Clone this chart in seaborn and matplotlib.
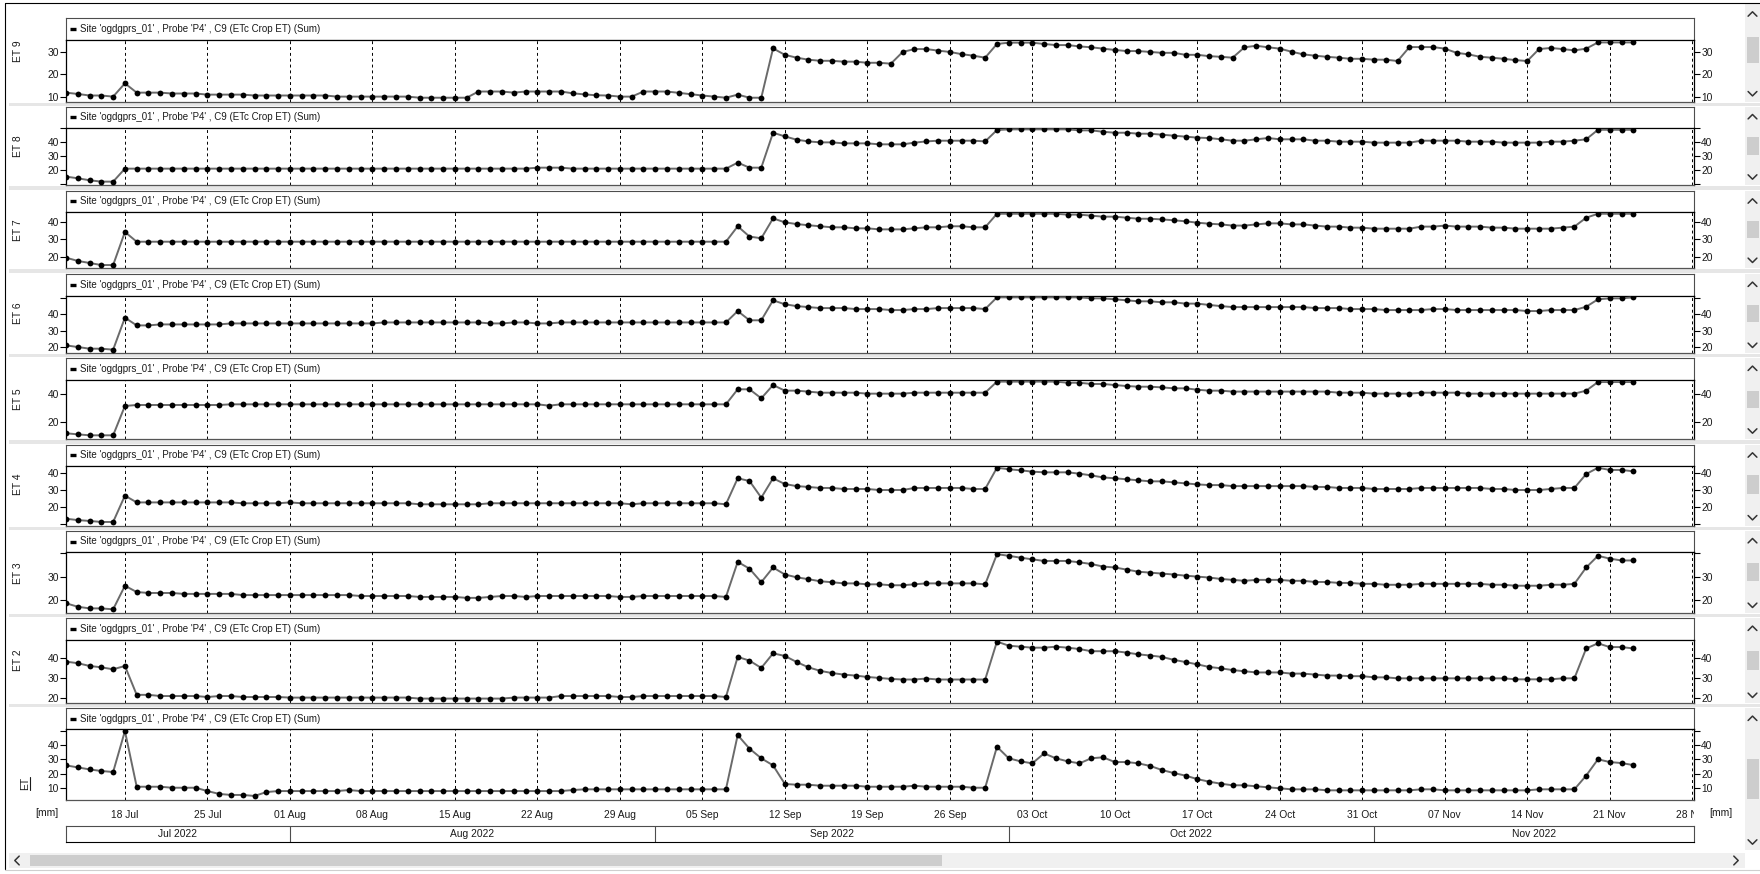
import matplotlib
matplotlib.use("Agg")
import matplotlib.pyplot as plt
import matplotlib.dates as mdates
from matplotlib.transforms import Bbox, TransformedBbox
import numpy as np
import pandas as pd
import seaborn as sns

# ---------------------------------------------------------------- data
first_day = "2022-07-13"
last_day = "2022-11-23"
header_text = "Site 'ogdgprs_01' , Probe 'P4' , C9 (ETc Crop ET) (Sum)"
unit_label = "[mm]"
panel_labels = ["ET 9", "ET 8", "ET 7", "ET 6", "ET 5", "ET 4", "ET 3", "ET 2", "ET"]
month_labels = ["Jul 2022", "Aug 2022", "Sep 2022", "Oct 2022", "Nov 2022"]
month_starts = ["2022-07-01", "2022-08-01", "2022-09-01", "2022-10-01", "2022-11-01", "2022-12-01"]

et9 = [11.8, 11.2, 10.5, 10.5, 10.0, 16.0, 11.8, 11.8, 11.8, 11.4,
       11.4, 11.4, 10.9, 10.9, 10.9, 10.9, 10.5, 10.5, 10.5, 10.5,
       10.5, 10.5, 10.5, 10.0, 10.0, 10.0, 10.0, 10.0, 10.0, 10.0,
       9.5, 9.5, 9.5, 9.5, 9.5, 12.3, 12.3, 12.3, 11.8, 12.3,
       12.3, 12.3, 12.3, 11.5, 11.0, 10.6, 10.5, 10.0, 10.0, 12.3,
       12.3, 12.3, 11.7, 11.1, 10.5, 10.0, 9.5, 10.9, 9.5, 9.5,
       31.8, 28.9, 27.6, 26.7, 26.2, 26.2, 25.8, 25.8, 25.3, 25.3,
       24.9, 30.2, 31.5, 31.5, 30.8, 30.2, 29.2, 28.5, 27.6, 33.8,
       34.4, 34.4, 34.4, 33.8, 33.3, 33.3, 32.7, 32.3, 31.7, 31.1,
       30.6, 30.6, 30.2, 29.8, 29.8, 28.9, 28.9, 28.3, 28.0, 27.6,
       32.3, 33.0, 32.3, 31.7, 30.3, 29.1, 28.5, 28.0, 27.6, 27.1,
       27.1, 26.7, 26.7, 26.1, 32.4, 32.4, 32.4, 31.7, 29.8, 29.1,
       28.0, 27.6, 27.1, 26.5, 26.1, 31.5, 32.0, 31.5, 30.9, 31.7,
       34.5, 34.5, 34.5, 34.5]

et8 = [15.0, 13.8, 12.4, 11.4, 11.4, 20.7, 20.7, 20.7, 20.7, 20.7,
       20.7, 20.7, 20.7, 20.7, 20.7, 20.7, 20.7, 20.7, 20.7, 20.7,
       20.7, 20.7, 20.7, 20.7, 20.7, 20.7, 20.7, 20.7, 20.7, 20.7,
       20.7, 20.7, 20.7, 20.7, 20.7, 20.7, 20.7, 20.7, 20.7, 20.7,
       21.4, 21.4, 21.4, 20.7, 20.7, 20.7, 20.7, 20.7, 20.7, 20.7,
       20.7, 20.7, 20.7, 20.7, 20.7, 20.7, 20.7, 25.0, 21.4, 21.4,
       46.4, 43.8, 41.4, 40.2, 39.5, 39.5, 38.8, 38.8, 38.8, 38.1,
       38.1, 38.1, 39.3, 40.2, 40.7, 40.7, 40.7, 40.7, 40.2, 48.3,
       48.8, 48.8, 48.8, 48.8, 48.8, 48.8, 48.1, 48.1, 47.1, 46.4,
       46.4, 45.7, 45.7, 45.0, 44.3, 43.6, 42.9, 42.6, 41.7, 40.7,
       40.7, 41.7, 42.6, 41.7, 41.7, 41.7, 40.7, 40.7, 40.0, 40.0,
       40.0, 39.3, 39.3, 39.3, 39.3, 40.7, 40.7, 40.7, 40.7, 40.0,
       40.0, 40.0, 39.3, 39.3, 39.3, 39.3, 40.0, 40.0, 40.7, 41.7,
       48.5, 48.5, 48.5, 48.5]

et7 = [19.4, 17.5, 16.3, 15.1, 15.1, 34.4, 28.7, 28.7, 28.7, 28.7,
       28.7, 28.7, 28.7, 28.7, 28.7, 28.7, 28.7, 28.7, 28.7, 28.7,
       28.7, 28.7, 28.7, 28.7, 28.7, 28.7, 28.7, 28.7, 28.7, 28.7,
       28.7, 28.7, 28.7, 28.7, 28.7, 28.7, 28.7, 28.7, 28.7, 28.7,
       28.7, 28.7, 28.7, 28.7, 28.7, 28.7, 28.7, 28.7, 28.7, 28.7,
       28.7, 28.7, 28.7, 28.7, 28.7, 28.7, 28.7, 37.7, 31.7, 30.7,
       42.3, 40.0, 39.0, 38.3, 37.7, 37.1, 37.1, 36.5, 36.5, 35.9,
       35.9, 35.9, 36.5, 37.1, 37.1, 37.7, 37.7, 37.1, 37.1, 45.0,
       45.0, 45.0, 45.0, 45.0, 45.0, 44.5, 44.5, 43.9, 43.3, 43.3,
       42.7, 42.1, 42.1, 41.7, 41.2, 40.6, 39.8, 39.2, 38.8, 38.1,
       38.1, 38.8, 39.4, 39.4, 38.8, 38.8, 38.1, 37.5, 37.5, 36.9,
       36.9, 36.3, 36.3, 36.3, 36.3, 37.5, 37.5, 38.1, 37.5, 37.5,
       37.5, 36.9, 36.9, 36.3, 36.3, 36.3, 36.3, 36.9, 37.5, 42.7,
       45.0, 45.0, 45.0, 45.0]

et6 = [21.0, 20.0, 19.0, 19.0, 18.4, 37.8, 33.1, 33.1, 33.7, 33.7,
       33.7, 33.7, 33.7, 33.7, 34.3, 34.3, 34.3, 34.3, 34.3, 34.3,
       34.3, 34.3, 34.3, 34.3, 34.3, 34.3, 34.3, 34.9, 34.9, 34.9,
       34.9, 34.9, 34.9, 34.9, 34.9, 34.9, 34.3, 34.3, 34.9, 34.9,
       34.3, 34.3, 34.9, 34.9, 34.9, 34.9, 34.9, 34.9, 34.9, 34.9,
       34.9, 34.9, 34.9, 34.9, 34.9, 34.9, 34.9, 41.8, 36.2, 36.2,
       48.3, 45.9, 44.8, 44.2, 43.6, 43.6, 43.6, 43.0, 43.0, 43.0,
       42.4, 42.4, 43.0, 43.0, 43.6, 43.6, 43.6, 43.6, 43.0, 50.1,
       50.1, 50.1, 50.1, 50.1, 50.1, 50.1, 50.1, 49.5, 49.5, 48.9,
       48.3, 47.7, 47.7, 47.1, 47.1, 46.3, 46.3, 45.5, 44.8, 44.2,
       44.2, 44.2, 44.2, 44.2, 44.2, 44.2, 43.6, 43.6, 43.6, 43.0,
       43.0, 43.0, 42.4, 42.4, 42.4, 42.4, 43.0, 43.0, 42.4, 42.4,
       42.4, 42.4, 42.4, 42.4, 41.8, 41.8, 42.4, 42.4, 42.4, 44.4,
       48.9, 49.5, 49.5, 50.1]

et5 = [11.5, 10.7, 10.0, 10.0, 10.0, 31.5, 32.2, 32.2, 32.2, 32.2,
       32.2, 32.2, 32.2, 32.2, 32.7, 32.7, 32.7, 32.7, 32.7, 32.7,
       32.7, 32.7, 32.7, 32.7, 32.7, 32.7, 32.7, 32.7, 32.7, 32.7,
       32.7, 32.7, 32.7, 32.7, 32.7, 32.7, 32.7, 32.7, 32.7, 32.7,
       32.7, 31.7, 32.7, 32.7, 32.7, 32.7, 32.7, 32.7, 32.7, 32.7,
       32.7, 32.7, 32.7, 32.7, 32.7, 32.7, 32.7, 43.7, 43.7, 37.1,
       46.8, 42.7, 42.7, 42.0, 41.2, 41.2, 41.2, 41.2, 40.5, 40.5,
       40.5, 40.5, 41.2, 41.2, 41.2, 41.2, 41.2, 41.2, 41.2, 49.3,
       49.3, 49.3, 49.3, 49.3, 49.3, 48.5, 48.5, 47.6, 47.6, 46.8,
       46.1, 45.6, 45.6, 45.1, 44.4, 44.4, 43.4, 42.7, 42.7, 42.0,
       42.0, 42.0, 42.0, 42.0, 42.0, 42.0, 42.0, 42.0, 41.2, 41.2,
       41.2, 40.5, 40.5, 40.5, 40.5, 41.2, 41.2, 41.2, 41.2, 40.5,
       40.5, 40.5, 40.5, 40.5, 40.5, 40.5, 40.5, 40.5, 40.5, 42.7,
       49.0, 49.0, 49.0, 49.0]

et4 = [13.3, 12.5, 12.0, 11.4, 11.4, 26.9, 22.9, 22.9, 22.9, 22.9,
       22.9, 22.9, 22.9, 22.9, 22.9, 22.4, 22.4, 22.4, 22.4, 22.9,
       22.4, 22.4, 22.4, 22.4, 22.4, 22.4, 22.4, 22.4, 22.4, 22.4,
       21.8, 21.8, 21.8, 21.8, 21.8, 21.8, 22.4, 22.4, 22.4, 22.4,
       22.4, 22.4, 22.4, 22.4, 22.4, 22.4, 22.4, 22.4, 21.8, 22.4,
       22.4, 22.4, 22.4, 22.4, 22.4, 22.4, 21.8, 37.1, 35.5, 25.7,
       37.1, 33.7, 32.5, 32.0, 31.4, 31.4, 30.8, 30.8, 30.8, 30.2,
       30.2, 30.2, 31.4, 31.4, 31.4, 31.4, 31.4, 30.8, 30.8, 43.3,
       42.4, 41.8, 41.0, 40.6, 40.6, 40.6, 39.8, 38.8, 37.6, 37.1,
       36.5, 35.9, 35.3, 35.3, 34.7, 34.1, 33.5, 33.1, 33.1, 32.5,
       32.5, 32.5, 32.5, 32.5, 32.5, 32.5, 32.0, 32.0, 31.4, 31.4,
       31.4, 30.8, 30.8, 30.8, 30.8, 31.4, 31.4, 31.4, 31.4, 31.4,
       31.4, 30.8, 30.8, 30.2, 30.2, 30.2, 30.8, 31.4, 31.4, 39.6,
       43.3, 42.0, 42.0, 41.2]

et3 = [18.6, 17.1, 16.4, 16.4, 16.0, 26.1, 23.4, 23.0, 23.0, 23.0,
       22.6, 22.6, 22.6, 22.6, 22.6, 22.1, 22.1, 22.1, 22.1, 22.1,
       22.1, 22.1, 22.1, 22.1, 22.1, 21.7, 21.7, 21.7, 21.7, 21.7,
       21.3, 21.3, 21.3, 21.3, 20.9, 20.9, 21.3, 21.7, 21.7, 21.3,
       21.7, 21.7, 21.7, 21.7, 21.7, 21.7, 21.7, 21.3, 21.3, 21.7,
       21.7, 21.7, 21.7, 21.7, 21.7, 21.7, 21.3, 36.3, 33.4, 27.6,
       33.9, 30.9, 29.7, 28.9, 28.0, 27.6, 27.1, 27.1, 26.7, 26.7,
       26.3, 26.3, 26.7, 27.1, 27.1, 27.1, 27.1, 27.1, 26.7, 39.6,
       38.9, 38.1, 37.4, 36.7, 36.7, 36.7, 36.1, 35.4, 34.3, 33.9,
       33.0, 32.1, 31.7, 31.3, 30.9, 30.4, 30.0, 29.6, 29.0, 28.6,
       28.2, 28.6, 28.6, 28.6, 28.2, 28.2, 27.7, 27.7, 27.3, 27.3,
       26.9, 26.9, 26.5, 26.5, 26.5, 26.9, 26.9, 26.9, 26.9, 26.9,
       26.9, 26.5, 26.5, 26.1, 26.1, 26.1, 26.5, 26.5, 26.9, 33.9,
       38.9, 37.7, 36.9, 36.9]

et2 = [38.3, 37.5, 36.1, 35.4, 34.4, 36.1, 21.4, 21.4, 20.8, 20.8,
       20.8, 20.8, 20.3, 20.8, 20.8, 20.3, 20.3, 20.3, 20.3, 20.0,
       20.0, 20.0, 20.0, 20.0, 20.0, 20.0, 20.0, 20.0, 20.0, 20.0,
       19.5, 19.5, 19.5, 19.5, 19.5, 19.5, 19.5, 19.5, 20.0, 20.0,
       20.0, 20.0, 20.8, 20.8, 20.8, 20.8, 20.8, 20.3, 20.3, 20.8,
       20.8, 20.8, 20.8, 20.8, 20.8, 20.8, 20.3, 40.7, 38.8, 35.1,
       42.5, 41.2, 38.1, 35.4, 33.6, 32.5, 31.7, 31.2, 30.5, 30.0,
       29.5, 29.2, 29.2, 29.7, 29.2, 29.2, 29.2, 29.2, 29.2, 48.5,
       46.4, 45.9, 45.4, 45.4, 45.9, 45.4, 44.7, 43.6, 43.6, 43.6,
       42.9, 42.0, 41.4, 40.7, 39.2, 38.1, 36.9, 35.6, 34.9, 34.0,
       33.4, 32.8, 32.8, 32.8, 32.2, 32.2, 31.7, 31.2, 31.2, 30.9,
       30.9, 30.3, 30.3, 29.8, 29.8, 29.8, 29.8, 29.8, 29.8, 29.8,
       29.8, 29.8, 29.8, 29.3, 29.3, 29.3, 29.3, 29.8, 29.8, 45.0,
       47.6, 45.7, 45.7, 45.0]

et1 = [25.9, 24.5, 23.1, 22.0, 21.3, 49.7, 11.1, 11.1, 11.1, 10.4,
       10.4, 10.4, 8.1, 6.1, 5.4, 5.4, 4.7, 7.4, 8.1, 8.1,
       8.1, 8.1, 8.1, 8.1, 8.8, 8.1, 8.1, 8.1, 8.1, 8.1,
       8.1, 8.1, 8.1, 8.1, 8.1, 8.1, 8.1, 8.1, 8.1, 8.1,
       8.1, 8.1, 8.1, 8.8, 9.3, 9.3, 9.3, 9.3, 9.3, 9.3,
       9.3, 9.3, 9.3, 9.3, 9.3, 9.3, 9.3, 46.9, 37.5, 30.8,
       25.9, 13.0, 12.5, 12.5, 11.8, 11.8, 11.8, 11.8, 11.1, 11.1,
       11.1, 11.1, 11.8, 11.1, 11.1, 11.1, 11.1, 10.4, 10.4, 38.8,
       30.8, 28.7, 27.3, 34.2, 30.8, 28.7, 27.3, 30.8, 31.5, 28.2,
       28.2, 27.3, 25.5, 22.7, 20.6, 18.8, 16.4, 14.6, 13.2, 12.1,
       12.1, 11.4, 10.7, 10.0, 9.3, 9.3, 9.3, 8.6, 8.6, 8.6,
       8.6, 8.6, 8.6, 8.6, 8.6, 9.3, 9.3, 8.6, 8.6, 8.6,
       8.6, 8.6, 8.6, 8.6, 8.6, 9.3, 9.3, 9.3, 9.3, 18.8,
       30.1, 28.2, 27.5, 26.1]

series = [et9, et8, et7, et6, et5, et4, et3, et2, et1]

# ---------------------------------------------------------------- style
sns.set_theme(style="ticks")
plt.rcParams["font.family"] = ["Liberation Sans", "DejaVu Sans"]
FS = 7.4
TXT = "#1a1a1a"

W, H = 1760, 874
PX0, PX1 = 66, 1694          # plot area, left/right edge in pixels
SCROLL_X0, SCROLL_X1 = 1745, 1760

# header top, header bottom, plot bottom, y-range, tick step, y of side label
layout = [
    (18.3, 40.0, 101.7, 7.7, 35.6, 10, 51),
    (106.7, 127.7, 185.0, 9.0, 50.0, 10, 146),
    (191.0, 211.7, 268.3, 13.2, 46.2, 10, 230),
    (274.3, 295.7, 353.3, 16.2, 51.1, 10, 313),
    (358.3, 380.0, 439.0, 7.3, 50.5, 20, 399),
    (445.0, 465.7, 525.7, 9.2, 44.5, 10, 484),
    (530.7, 552.3, 613.3, 14.3, 40.4, 10, 573),
    (618.3, 640.0, 703.3, 17.1, 49.3, 10, 660),
    (708.3, 729.3, 800.0, 1.9, 50.9, 10, 783),
]
# vertical scroll bar of every pane: column extent and thumb extent
scroll_cols = [(4, 101.7), (106.7, 185.0), (191.0, 268.3), (274.3, 353.3),
               (358.3, 439.0), (445.0, 525.7), (530.7, 613.3), (618.3, 703.3),
               (708.3, 850.0)]
scroll_thumbs = [(37, 63), (137, 155), (220.7, 238.3), (305, 321.7), (390.7, 407.7),
                 (475, 494.3), (562.7, 580.7), (650.7, 670), (759.3, 799.3)]


def px_box(x0, y0, x1, y1):
    return [x0 / W, 1 - y1 / H, (x1 - x0) / W, (y1 - y0) / H]


dates = pd.date_range(first_day, last_day, freq="D")
x_lo = pd.Timestamp(first_day)
x_hi = pd.Timestamp("2022-11-28") + pd.Timedelta(hours=3.6)
mondays = pd.date_range("2022-07-18", "2022-11-28", freq="7D")

fig = plt.figure(figsize=(W / 100, H / 100), dpi=100)
fig.patch.set_facecolor("white")

# window chrome drawn in pixel coordinates
bg = fig.add_axes([0, 0, 1, 1], zorder=-10)
bg.set_xlim(0, W)
bg.set_ylim(H, 0)
bg.axis("off")
bg.plot([5, 5], [3, 869], color="black", lw=0.8)
bg.plot([5, W], [3, 3], color="black", lw=0.8)
bg.plot([5, W], [870, 870], color="#cfcfcf", lw=0.8)

for i in range(len(layout) - 1):
    y0 = layout[i][2] + 1.0
    y1 = layout[i + 1][0] - 1.0
    bg.add_patch(plt.Rectangle((9, y0), SCROLL_X1 - 9, y1 - y0,
                               color="#e6e6e6", lw=0))


def chevron(cx, cy, up=True, horizontal=False):
    d = 2.2
    s = 1 if up else -1
    if horizontal:
        xs = [cx + s * d, cx - s * d, cx + s * d]
        ys = [cy - 2 * d, cy, cy + 2 * d]
    else:
        xs = [cx - 2 * d, cx, cx + 2 * d]
        ys = [cy + s * d, cy - s * d, cy + s * d]
    bg.plot(xs, ys, color="#333333", lw=1.1, solid_capstyle="round")


for (c0, c1), (t0, t1) in zip(scroll_cols, scroll_thumbs):
    bg.add_patch(plt.Rectangle((SCROLL_X0, c0), SCROLL_X1 - SCROLL_X0, c1 - c0,
                               color="#f0f0f0", lw=0))
    bg.add_patch(plt.Rectangle((SCROLL_X0 + 2, t0), SCROLL_X1 - SCROLL_X0 - 3, t1 - t0,
                               color="#cdcdcd", lw=0))
    chevron(1752.5, c0 + 10, up=True)
    chevron(1752.5, c1 - 8, up=False)

# horizontal scroll bar at the foot of the window
bg.add_patch(plt.Rectangle((9, 853), SCROLL_X0 - 9, 15, color="#f0f0f0", lw=0))
bg.add_patch(plt.Rectangle((30, 855), 912, 11, color="#cdcdcd", lw=0))
chevron(17, 860.5, up=True, horizontal=True)
chevron(1736, 860.5, up=False, horizontal=True)

# ---------------------------------------------------------------- panes
for i, (label, values) in enumerate(zip(panel_labels, series)):
    ht, hb, pb, ylo, yhi, step, ly = layout[i]

    # caption bar above the pane
    hax = fig.add_axes(px_box(PX0, ht, PX1, hb))
    hax.set_xlim(0, PX1 - PX0)
    hax.set_ylim(0, 1)
    hax.set_xticks([])
    hax.set_yticks([])
    for sp in hax.spines.values():
        sp.set_color("#4d4d4d")
        sp.set_linewidth(0.8)
    hax.plot([4, 10], [0.5, 0.5], color="black", lw=2.4, solid_capstyle="butt")
    hax.text(14, 0.5, header_text, ha="left", va="center", fontsize=7.0, color=TXT)

    # the time series itself
    ax = fig.add_axes(px_box(PX0, hb, PX1, pb))
    frame = pd.DataFrame({"date": dates, "value": values})
    sns.lineplot(data=frame, x="date", y="value", ax=ax, color="#6a6a6a",
                 linewidth=1.4, marker="o", markersize=4.2,
                 markerfacecolor="black", markeredgecolor="black",
                 markeredgewidth=0, zorder=3)
    ax.set_xlim(x_lo, x_hi)
    ax.set_ylim(ylo, yhi)
    ax.set_xlabel("")
    ax.set_ylabel("")

    ax.set_xticks(mondays)
    ax.set_axisbelow(True)
    ax.grid(axis="x", color="black", linestyle=(0, (3, 3)), linewidth=0.7)
    ax.grid(axis="y", visible=False)

    height_px = pb - hb
    first = np.ceil(ylo / step) * step
    ticks = np.arange(first, yhi + 1e-9, step)
    labels = []
    for t in ticks:
        d_lo = (t - ylo) / (yhi - ylo) * height_px
        d_hi = (yhi - t) / (yhi - ylo) * height_px
        labels.append(f"{int(t)}" if (d_lo >= 4 and d_hi >= 4) else "")
    ax.set_yticks(ticks, labels=labels)
    ax.tick_params(axis="y", which="major", direction="out", length=4, width=0.8,
                   pad=1.2, labelsize=FS, labelcolor=TXT, color="black",
                   left=True, right=True, labelleft=True, labelright=True)

    for sp in ax.spines.values():
        sp.set_color("black")
        sp.set_linewidth(0.9)
    ax.spines["bottom"].set_color("#555555")

    if i < len(layout) - 1:
        ax.tick_params(axis="x", length=0, labelbottom=False)
        fig.text(18 / W, 1 - ly / H, label, rotation=90, ha="center", va="center",
                 fontsize=FS, color=TXT)
    else:
        ax.xaxis.set_major_formatter(mdates.DateFormatter("%d %b"))
        ax.tick_params(axis="x", length=0, pad=7.5, labelsize=FS, labelcolor=TXT)
        clip = TransformedBbox(Bbox.from_extents(0, 0, PX1 / W, 1), fig.transFigure)
        for tk in ax.xaxis.get_major_ticks():
            tk.label1.set_clip_on(True)
            tk.label1.set_clip_box(clip)
        fig.text(25 / W, 1 - ly / H, label, rotation=90, ha="center", va="center",
                 fontsize=FS, color=TXT)
        bg.plot([29.5, 29.5], [777, 790], color=TXT, lw=0.8)

# unit labels beside the date axis
fig.text(58 / W, 1 - 813 / H, unit_label, ha="right", va="center", fontsize=FS, color=TXT)
fig.text(1709 / W, 1 - 813 / H, unit_label, ha="left", va="center", fontsize=FS, color=TXT)

# month band under the date axis
mb = fig.add_axes(px_box(PX0, 826, PX1, 842))
mb.set_xlim(x_lo, x_hi)
mb.set_ylim(0, 1)
mb.set_xticks([])
mb.set_yticks([])
for sp in mb.spines.values():
    sp.set_color("#4d4d4d")
    sp.set_linewidth(0.8)
mb.spines["bottom"].set_color("black")
starts = [pd.Timestamp(s) for s in month_starts]
for k, name in enumerate(month_labels):
    a = max(starts[k], x_lo)
    b = min(starts[k + 1], x_hi)
    if k > 0:
        mb.axvline(starts[k], color="#4d4d4d", lw=0.8)
    mb.text(a + (b - a) / 2, 0.5, name, ha="center", va="center", fontsize=FS, color=TXT)

fig.savefig("out.png", dpi=100, facecolor="white")
